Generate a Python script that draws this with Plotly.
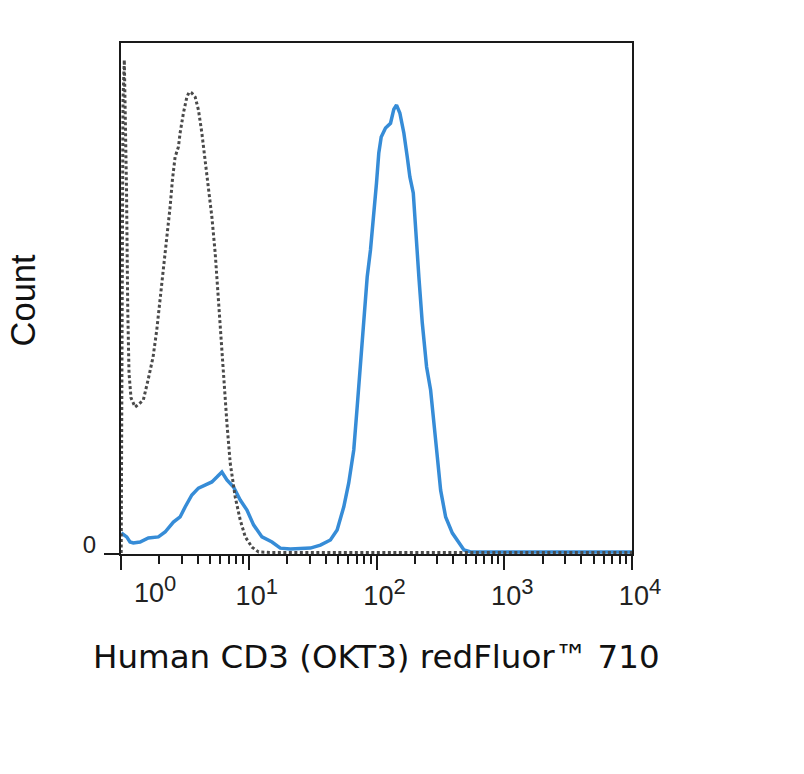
import plotly.graph_objects as go

# ---------------- data ----------------
# Isotype control histogram (grey dotted): log10 fluorescence, count
ctrl_log = [0.0016, 0.0157, 0.0259, 0.0353, 0.0431, 0.0525, 0.0627, 0.0784, 0.1098,
            0.1412, 0.1749, 0.2118, 0.2510, 0.2800, 0.3059, 0.3318, 0.3584, 0.3843,
            0.4024, 0.4235, 0.4494, 0.4627, 0.4886, 0.5153, 0.5333, 0.5545, 0.5804,
            0.6063, 0.6329, 0.6588, 0.6847, 0.7114, 0.7373, 0.7631, 0.7843, 0.8024,
            0.8290, 0.8549, 0.8941, 0.9333, 0.9725, 1.0251, 1.0769, 1.1820, 1.5,
            2.0, 2.5, 3.0, 3.5, 4.0]
ctrl_count = [0.4, 177.7, 193.4, 169.9, 142.5, 96.7, 70.8, 61.1, 57.5,
              58.7, 60.3, 68.1, 77.1, 87.7, 99.4, 111.2, 122.9, 135.8,
              146.4, 155.4, 159.3, 164.8, 172.6, 178.8, 180.8, 180.4, 178.9,
              173.8, 164.8, 154.2, 145.2, 131.9, 117.8, 98.2, 83.8, 70.8,
              51.3, 35.6, 22.3, 13.3, 6.7, 2.7, 0.8, 0.6, 0.6,
              0.6, 0.6, 0.6, 0.6, 0.6]

# CD3 stained histogram (blue): log10 fluorescence, count
stain_log = [0.0024, 0.0447, 0.0706, 0.0965, 0.1490, 0.2141, 0.2925, 0.3451, 0.4102,
             0.4627, 0.5020, 0.5545, 0.6063, 0.6588, 0.7114, 0.7506, 0.7898, 0.8290,
             0.8808, 0.9333, 0.9859, 1.0376, 1.1035, 1.1820, 1.2471, 1.3255, 1.4039,
             1.4824, 1.5608, 1.6392, 1.6918, 1.7435, 1.7827, 1.8220, 1.8486, 1.8745,
             1.9004, 1.9271, 1.9529, 1.9788, 2.0000, 2.0180, 2.0369, 2.0706, 2.1098,
             2.1357, 2.1569, 2.1827, 2.2141, 2.2408, 2.2612, 2.2878, 2.3059, 2.3318,
             2.3584, 2.3922, 2.4235, 2.4494, 2.4761, 2.5020, 2.5412, 2.5937, 2.6455,
             2.6847, 2.7373, 3.0, 3.5, 4.0]
stain_count = [8.2, 6.7, 4.7, 4.3, 4.7, 6.3, 6.7, 8.6, 12.5,
               14.5, 18.4, 23.1, 25.8, 27.0, 28.2, 30.1, 32.1, 29.0,
               26.2, 21.1, 17.2, 11.4, 6.7, 4.7, 2.3, 2.0, 2.0,
               2.3, 3.5, 5.5, 9.4, 18.4, 27.8, 40.7, 57.5, 73.2,
               92.8, 108.4, 119.0, 131.9, 145.2, 157.0, 163.2, 166.7, 168.6,
               174.1, 175.7, 172.6, 164.8, 155.4, 147.6, 141.3, 126.8, 108.4,
               90.4, 73.2, 64.2, 52.4, 38.0, 25.0, 14.5, 8.2, 4.3,
               1.6, 0.8, 0.8, 0.8, 0.8]

x_major = [1, 10, 100, 1000, 10000]
x_exponents = ["0", "1", "2", "3", "4"]
x_minor = [m * d for d in [1, 10, 100, 1000] for m in range(2, 10)]
y_ticks = [0]
y_tick_labels = ["0"]
x_title = "Human CD3 (OKT3) redFluor™ 710"
y_title = "Count"
y_max = 200

# ---------------- figure ----------------
ctrl_x = [10 ** v for v in ctrl_log]
stain_x = [10 ** v for v in stain_log]


def power_label(e):
    return '10<sup><span style="font-size:22px">' + e + '</span></sup>'


x_labels = [power_label(e) for e in x_exponents]

AX = "#1a1a1a"
FONT = "Liberation Sans, Arial, sans-serif"
TITLE_FONT = "DejaVu Sans, sans-serif"

fig = go.Figure()
fig.add_trace(go.Scatter(x=stain_x, y=stain_count, mode="lines",
                         line=dict(color="#368cd7", width=3.5),
                         hoverinfo="skip", showlegend=False))
fig.add_trace(go.Scatter(x=ctrl_x, y=ctrl_count, mode="lines",
                         line=dict(color="#4a4a4a", width=3, dash="3px,2.5px"),
                         hoverinfo="skip", showlegend=False))

fig.update_layout(
    width=804, height=774,
    margin=dict(l=121, r=172, t=43, b=220, pad=0),
    paper_bgcolor="white", plot_bgcolor="white",
    font=dict(family=FONT, color="#111"),
    showlegend=False,
    xaxis=dict(
        type="log", range=[0, 4],
        tickmode="array", tickvals=x_major,
        ticktext=[""] + x_labels[1:],
        ticks="outside", ticklen=14, tickwidth=2, tickcolor=AX,
        showline=True, linecolor=AX, linewidth=2, mirror=True,
        showgrid=False, zeroline=False,
        tickfont=dict(size=27, family=FONT, color="#222"),
        ticklabelshift=8, ticklabelstandoff=3,
        minor=dict(tickmode="array", tickvals=x_minor, ticks="outside",
                   ticklen=8, tickwidth=2, tickcolor=AX, showgrid=False),
    ),
    yaxis=dict(
        range=[0, y_max],
        tickmode="array", tickvals=y_ticks, ticktext=y_tick_labels,
        ticks="outside", ticklen=15, tickwidth=2, tickcolor=AX,
        showline=True, linecolor=AX, linewidth=2, mirror=True,
        showgrid=False, zeroline=False,
        tickfont=dict(size=24, family=FONT, color="#222"),
        ticklabelshift=-9, ticklabelstandoff=3,
    ),
)

fig.add_annotation(text=x_labels[0], xref="x", yref="paper",
                   x=0.27, y=0, yanchor="top", yshift=-15, showarrow=False,
                   font=dict(size=27, family=FONT, color="#222"))
fig.add_annotation(text=x_title, xref="paper", yref="paper", x=0.5, y=-0.2016,
                   xanchor="center", yanchor="middle", showarrow=False,
                   font=dict(size=32.5, family=TITLE_FONT, color="#111"))
fig.add_annotation(text=y_title, xref="paper", yref="paper", x=-0.191, y=0.497,
                   xanchor="center", yanchor="middle", textangle=-90, showarrow=False,
                   font=dict(size=34.5, family=FONT, color="#111"))

fig.write_html(
    "out.html",
    config={"displayModeBar": False, "staticPlot": True},
    post_script="document.body.style.margin='0';document.body.style.overflow='hidden';",
)
